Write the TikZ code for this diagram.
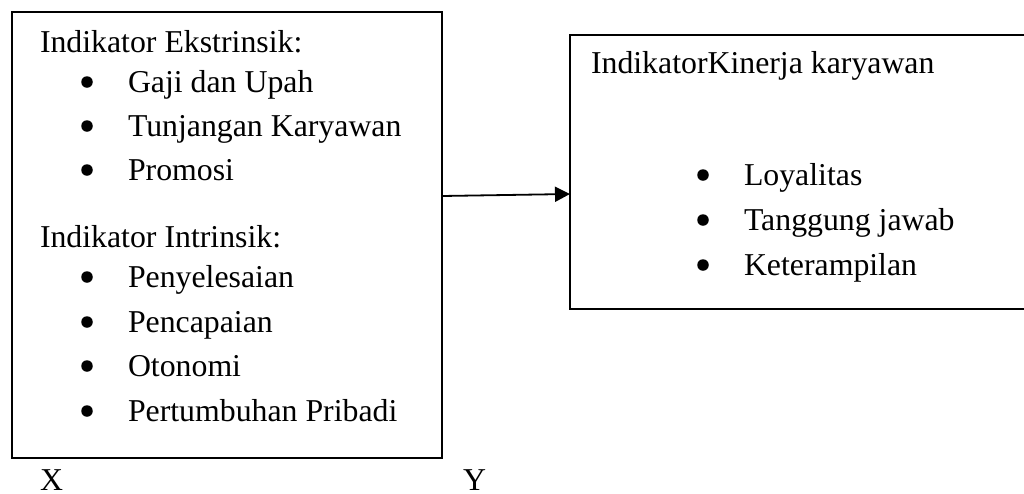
\documentclass[tikz,border=0pt]{standalone}
\usepackage{fontspec}
\setmainfont{Liberation Serif}
\usetikzlibrary{arrows.meta}
\tikzset{
  box/.style={draw, line width=1.8pt, inner sep=0pt, outer sep=0pt, anchor=north west},
  txt/.style={anchor=base west, inner sep=0pt, outer sep=0pt, font=\fontsize{31.8}{38}\selectfont},
  bul/.style={circle, fill, inner sep=0pt, minimum size=11.5pt},
  conn/.style={line width=1.8pt, -{Triangle[length=15pt,width=15pt]}}
}
\begin{document}
\begin{tikzpicture}[x=1pt,y=-1pt]
\useasboundingbox (0,0) rectangle (1024,493);
\clip (0,0) rectangle (1024,493);
% boxes
\node[box, minimum width=430pt, minimum height=446pt] (L) at (12,12) {};
\node[box, minimum width=470pt, minimum height=274pt] (R) at (570,35) {};
% left box texts
\node[txt] (h1) at (40,52) {Indikator Ekstrinsik:};
\node[bul] (b1) at (87,82) {};
\node[txt] (t1) at (128,92) {Gaji dan Upah};
\node[bul] (b2) at (87,126) {};
\node[txt] (t2) at (128,136) {Tunjangan Karyawan};
\node[bul] (b3) at (87,170) {};
\node[txt] (t3) at (128,180) {Promosi};
\node[txt] (h2) at (40,247) {Indikator Intrinsik:};
\node[bul] (b4) at (87,277) {};
\node[txt] (t4) at (128,287) {Penyelesaian};
\node[bul] (b5) at (87,322) {};
\node[txt] (t5) at (128,332) {Pencapaian};
\node[bul] (b6) at (87,366) {};
\node[txt] (t6) at (128,376) {Otonomi};
\node[bul] (b7) at (87,411) {};
\node[txt] (t7) at (128,421) {Pertumbuhan Pribadi};
% right box texts
\node[txt] (h3) at (591,73) {IndikatorKinerja karyawan};
\node[bul] (b8) at (703,175) {};
\node[txt] (t8) at (744,185) {Loyalitas};
\node[bul] (b9) at (703,220) {};
\node[txt] (t9) at (744,230) {Tanggung jawab};
\node[bul] (b10) at (703,265) {};
\node[txt] (t10) at (744,275) {Keterampilan};
% labels
\node[txt] (X) at (40,490) {X};
\node[txt] (Y) at (463,490) {Y};
% connector
\path (L.north east) ++(0,184) coordinate (a1);
\path (R.north west) ++(0,159) coordinate (a2);
\draw[conn] (a1) -- (a2);
\end{tikzpicture}
\end{document}
